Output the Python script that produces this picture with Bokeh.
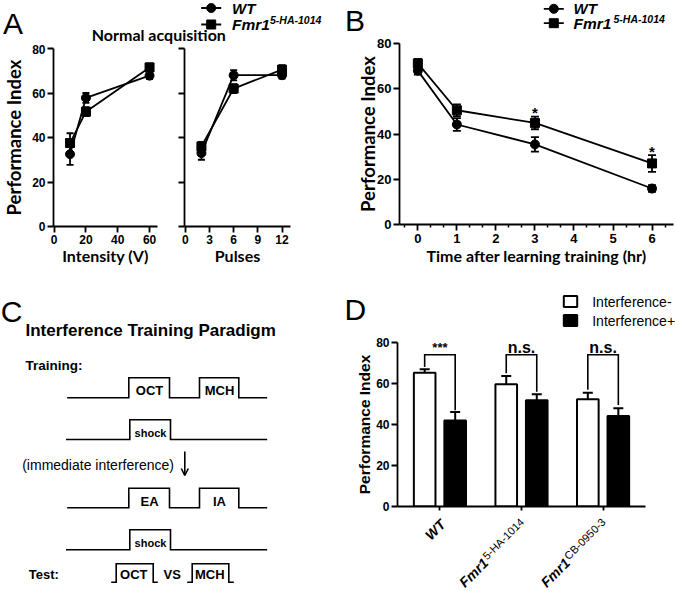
import math
from bokeh.plotting import figure
from bokeh.models import (Range1d, FixedTicker, Label, Whisker, TeeHead,
                          ColumnDataSource, Arrow, OpenHead)
from bokeh.layouts import row, column
from bokeh.embed import file_html
from bokeh.resources import INLINE
from bokeh.core.properties import value

# ---------------- data ----------------
# Panel A (left): shock intensity
intensity_v = [10, 20, 60]
wt_intensity = [32.5, 57.8, 67.8]
wt_intensity_sem = [4.8, 2.2, 1.5]
fmr_intensity = [37.5, 51.6, 71.5]
fmr_intensity_sem = [4.4, 2.0, 1.8]
intensity_ticks = [0, 20, 40, 60]
# Panel A (right): number of pulses
pulses = [2, 6, 12]
wt_pulses = [33.0, 68.0, 68.0]
wt_pulses_sem = [3.0, 2.3, 1.5]
fmr_pulses = [36.0, 62.0, 70.5]
fmr_pulses_sem = [2.0, 2.0, 2.0]
pulse_ticks = [0, 3, 6, 9, 12]
pi_ticks = [0, 20, 40, 60, 80]
# Panel B: memory decay
hours = [0, 1, 3, 6]
wt_time = [68.0, 44.2, 35.4, 15.9]
wt_time_sem = [1.8, 2.8, 3.2, 1.5]
fmr_time = [71.2, 50.5, 44.9, 27.0]
fmr_time_sem = [2.0, 2.6, 2.8, 3.7]
star_hours = [3, 6]
star_pi = [50.8, 33.6]
hour_ticks = [0, 1, 2, 3, 4, 5, 6]
hour_minor_ticks = [-1/3, 1/3, 2/3, 4/3, 5/3, 7/3, 8/3, 10/3, 11/3, 13/3, 14/3,
                    16/3, 17/3, 19/3]
# Panel D: interference
groups = [1, 2, 3]
genotype_base = ["WT", "Fmr1", "Fmr1"]
genotype_sup = ["", "5-HA-1014", "CB-0950-3"]
interference_minus = [65.3, 59.6, 52.3]
interference_minus_sem = [1.7, 4.1, 3.2]
interference_plus = [42.0, 51.8, 44.1]
interference_plus_sem = [4.1, 2.9, 3.8]
sig_text = ["***", "n.s.", "n.s."]
bracket_top = [74, 74, 74]
bracket_left_end = [68.0, 65.0, 57.0]
bracket_right_end = [47.0, 56.0, 49.5]

# Panel C schematic (drawing positions of the paradigm diagram)
odor_wave_x = [66.7, 128.3, 128.3, 169, 169, 199, 199, 238.3, 238.3, 266.7]
odor_wave_level = [0, 0, 1, 1, 0, 0, 1, 1, 0, 0]
shock_wave_x = [65.5, 129.3, 129.3, 170, 170, 266.7]
shock_wave_level = [0, 0, 1, 1, 0, 0]
test_oct_x = [110.7, 115.7, 115.7, 152.7, 152.7, 157.3]
test_mch_x = [186.7, 191.7, 191.7, 228.3, 228.3, 233.3]
test_level = [0, 0, 1, 1, 0, 0]
wave_rows = {"odor1": (397.3, 377.3), "shock1": (439.0, 419.3),
             "odor2": (507.3, 487.7), "shock2": (549.3, 529.3),
             "test": (581.7, 563.3)}

ARIAL = "Liberation Sans"
TITLE = "Lato"
LW = 1.8


def base_fig(w, h, xr, yr, ml, mr, mt, mb):
    p = figure(width=w, height=h, x_range=Range1d(*xr), y_range=Range1d(*yr),
               output_backend="svg", toolbar_location=None, frame_align=False,
               min_border_left=ml, min_border_right=mr,
               min_border_top=mt, min_border_bottom=mb)
    p.outline_line_color = None
    p.xgrid.visible = False
    p.ygrid.visible = False
    p.background_fill_color = "white"
    p.border_fill_color = "white"
    return p


def canvas_fig(w, h, xr, yr):
    p = figure(width=w, height=h, x_range=Range1d(*xr), y_range=Range1d(*yr),
               output_backend="svg", toolbar_location=None, frame_align=False,
               x_axis_type=None, y_axis_type=None, min_border=0)
    p.outline_line_color = None
    p.xgrid.visible = False
    p.ygrid.visible = False
    p.background_fill_color = "white"
    p.border_fill_color = "white"
    return p


def style_axis(ax, size="12px", title_font=TITLE, title_size="16px"):
    ax.axis_line_width = LW
    ax.axis_line_color = "black"
    ax.major_tick_line_width = LW
    ax.major_tick_line_color = "black"
    ax.major_tick_out = 6
    ax.major_tick_in = 0
    ax.minor_tick_line_color = None
    ax.major_label_text_font = ARIAL
    ax.major_label_text_font_style = "bold"
    ax.major_label_text_font_size = size
    ax.major_label_text_color = "black"
    ax.major_label_standoff = 2
    ax.axis_label_text_font = title_font
    ax.axis_label_text_font_style = "bold"
    ax.axis_label_text_font_size = title_size
    ax.axis_label_text_color = "black"


def txt(p, x, y, s, size, style="bold", align="left", baseline="middle", font=ARIAL):
    p.text(x=[x], y=[y], text=[s], text_font=value(font), text_font_size=size,
           text_font_style=style, text_align=align, text_baseline=baseline,
           text_color="black")


def add_series(p, x, y, sem, marker, size, cap):
    lo = [a - b for a, b in zip(y, sem)]
    hi = [a + b for a, b in zip(y, sem)]
    src = ColumnDataSource(dict(x=x, y=y, lo=lo, hi=hi))
    p.line("x", "y", source=src, line_color="black", line_width=LW)
    p.add_layout(Whisker(source=src, base="x", lower="lo", upper="hi",
                         line_color="black", line_width=LW,
                         lower_head=TeeHead(size=cap, line_width=LW, line_color="black"),
                         upper_head=TeeHead(size=cap, line_width=LW, line_color="black")))
    p.scatter("x", "y", source=src, marker=marker, size=size,
              fill_color="black", line_color="black")


def legend_rows(p, x0, x1, xt, y_wt, y_fmr, sup_dx):
    xm = (x0 + x1) / 2
    p.line([x0, x1], [y_wt, y_wt], line_color="black", line_width=LW)
    p.scatter([xm], [y_wt], marker="circle", size=9, fill_color="black", line_color="black")
    p.line([x0, x1], [y_fmr, y_fmr], line_color="black", line_width=LW)
    p.scatter([xm], [y_fmr], marker="square", size=9, fill_color="black", line_color="black")
    txt(p, xt, y_wt, "WT", "15px", style="bold italic")
    txt(p, xt, y_fmr, "Fmr1", "15.5px", style="bold italic")
    txt(p, xt + sup_dx, y_fmr - 4.5, "5-HA-1014", "10.5px", style="bold italic")


# ---------------- Panel A ----------------
hA = canvas_fig(335, 44, (0, 335), (44, 0))
txt(hA, 2.5, 23, "A", "30px", style="normal")
txt(hA, 158.3, 34, "Normal acquisition", "16px", align="center", font=TITLE)
legend_rows(hA, 200.7, 220.7, 231.5, 7.5, 24, 38)

a1 = base_fig(170, 241, (-0.4, 65), (0, 80), 50, 13, 4, 59)
a1.xaxis.ticker = FixedTicker(ticks=intensity_ticks)
a1.yaxis.ticker = FixedTicker(ticks=pi_ticks)
style_axis(a1.xaxis[0])
style_axis(a1.yaxis[0], title_size="18.5px")
a1.xaxis.axis_label = "Intensity (V)"
a1.xaxis.axis_label_standoff = -1
a1.yaxis.axis_label = "Performance Index"
a1.yaxis.axis_label_standoff = 4
add_series(a1, intensity_v, wt_intensity, wt_intensity_sem, "circle", 9, 7)
add_series(a1, intensity_v, fmr_intensity, fmr_intensity_sem, "square", 9, 7)

a2 = base_fig(165, 241, (-0.1, 13.05), (0, 80), 14, 45, 4, 59)
a2.xaxis.ticker = FixedTicker(ticks=pulse_ticks)
a2.yaxis.ticker = FixedTicker(ticks=pi_ticks)
style_axis(a2.xaxis[0])
style_axis(a2.yaxis[0])
a2.yaxis.major_label_overrides = {t: "" for t in pi_ticks}
a2.xaxis.axis_label = "Pulses"
a2.xaxis.axis_label_standoff = -1
add_series(a2, pulses, wt_pulses, wt_pulses_sem, "circle", 9, 7)
add_series(a2, pulses, fmr_pulses, fmr_pulses_sem, "square", 9, 7)

# ---------------- Panel B ----------------
hB = canvas_fig(340, 37, (335, 675), (37, 0))
txt(hB, 344.5, 20, "B", "30px", style="normal")
legend_rows(hB, 543.3, 563.3, 573, 8.3, 22.7, 40)

b = base_fig(340, 248, (-0.47, 6.55), (0, 80), 64, 2, 6, 61)
b.xaxis.ticker = FixedTicker(ticks=hour_ticks, minor_ticks=hour_minor_ticks)
b.yaxis.ticker = FixedTicker(ticks=pi_ticks)
style_axis(b.xaxis[0], size="13px")
style_axis(b.yaxis[0], size="13px", title_size="18.5px")
b.xaxis.minor_tick_line_color = "black"
b.xaxis.minor_tick_line_width = 1.5
b.xaxis.minor_tick_out = 3
b.xaxis.minor_tick_in = 0
b.xaxis.major_label_standoff = 3
b.xaxis.axis_label = "Time after learning training (hr)"
b.xaxis.axis_label_standoff = 0
b.yaxis.axis_label = "Performance Index"
b.yaxis.axis_label_standoff = -5
add_series(b, hours, wt_time, wt_time_sem, "circle", 9, 8)
add_series(b, hours, fmr_time, fmr_time_sem, "square", 9, 8)
b.text(x=star_hours, y=[v - 1.5 for v in star_pi], text=["*"] * len(star_hours),
       text_font=value(ARIAL), text_font_size="15px", text_font_style="bold",
       text_align="center", text_baseline="middle", text_color="black")

# ---------------- Panel C ----------------
c = canvas_fig(335, 306, (0, 335), (591, 285))


def wave(p, xs, levels, rowkey):
    low, high = wave_rows[rowkey]
    ys = [high if lv else low for lv in levels]
    p.line(xs, ys, line_color="black", line_width=1.6, line_join="miter")


wave(c, odor_wave_x, odor_wave_level, "odor1")
wave(c, shock_wave_x, shock_wave_level, "shock1")
wave(c, odor_wave_x, odor_wave_level, "odor2")
wave(c, shock_wave_x, shock_wave_level, "shock2")
wave(c, test_oct_x, test_level, "test")
wave(c, test_mch_x, test_level, "test")
txt(c, 0.2, 311, "C", "30px", style="normal")
txt(c, 25, 330, "Interference Training Paradigm", "17px")
txt(c, 25, 365, "Training:", "13.5px")
txt(c, 149, 390, "OCT", "13px", align="center")
txt(c, 219, 390, "MCH", "13px", align="center")
txt(c, 150, 432, "shock", "11px", align="center")
txt(c, 21.7, 464.3, "(immediate interference)", "14px", style="normal")
txt(c, 149, 500.7, "EA", "13px", align="center")
txt(c, 219, 500.7, "IA", "13px", align="center")
txt(c, 150, 542, "shock", "11px", align="center")
txt(c, 28.3, 574.3, "Test:", "13px")
txt(c, 133.3, 574.3, "OCT", "13px", align="center")
txt(c, 171.7, 574.3, "VS", "13px", align="center")
txt(c, 209.3, 574.3, "MCH", "13px", align="center")
c.add_layout(Arrow(end=OpenHead(size=7, line_width=1.6, line_color="black"),
                   x_start=184.3, y_start=451, x_end=184.3, y_end=475,
                   line_width=1.6, line_color="black"))

# ---------------- Panel D ----------------
hD = canvas_fig(340, 48, (335, 675), (333, 285))
txt(hD, 344, 309, "D", "30px", style="normal")
hD.quad(left=[563.3], right=[576.7], top=[295.5], bottom=[306.5],
        fill_color="white", line_color="black", line_width=2)
hD.quad(left=[563.3], right=[576.7], top=[314.5], bottom=[325.5],
        fill_color="black", line_color="black", line_width=2)
txt(hD, 591.7, 301, "Interference-", "14px", style="normal")
txt(hD, 591.7, 320, "Interference+", "14px", style="normal")

D_XR = (0.48, 3.52)
D_ML, D_MR = 62, 30
D_FRAME_W = 340 - D_ML - D_MR
d = base_fig(340, 181, D_XR, (0, 80), D_ML, D_MR, 9, 8)
d.xaxis.ticker = FixedTicker(ticks=groups)
d.yaxis.ticker = FixedTicker(ticks=pi_ticks)
style_axis(d.xaxis[0])
style_axis(d.yaxis[0], title_font=ARIAL, title_size="15.5px")
d.xaxis.major_tick_out = 4
d.xaxis.major_label_overrides = {g: "" for g in groups}
d.xaxis.major_label_text_font_size = "0px"
d.xaxis.major_label_standoff = 0
d.yaxis.axis_label = "Performance Index"
d.yaxis.axis_label_standoff = 0

off = 0.187
bw = 0.265
x_minus = [g - off for g in groups]
x_plus = [g + off for g in groups]
src_m = ColumnDataSource(dict(x=x_minus, top=interference_minus,
                              hi=[a + e for a, e in zip(interference_minus, interference_minus_sem)]))
src_p = ColumnDataSource(dict(x=x_plus, top=interference_plus,
                              hi=[a + e for a, e in zip(interference_plus, interference_plus_sem)]))
for src, fill in ((src_m, "white"), (src_p, "black")):
    d.add_layout(Whisker(source=src, base="x", lower="top", upper="hi",
                         line_color="black", line_width=2, lower_head=None,
                         upper_head=TeeHead(size=10, line_width=2, line_color="black"),
                         level="underlay"))
    d.vbar(x="x", top="top", bottom=0, width=bw, source=src,
           fill_color=fill, line_color="black", line_width=2)

bx, by = [], []
for g, t, le, re in zip(groups, bracket_top, bracket_left_end, bracket_right_end):
    bx.append([g - off, g - off, g + off, g + off])
    by.append([le, t, t, re])
d.multi_line(bx, by, line_color="black", line_width=1.6, line_join="miter")
for g, s in zip(groups, sig_text):
    d.add_layout(Label(x=g, y=77.4, text=s, text_align="center", text_baseline="middle",
                       text_font=ARIAL, text_font_style="bold",
                       text_font_size="13px" if s == "***" else "16px", text_color="black"))

# footer with rotated genotype labels, sharing D's horizontal data scale
FOOT_TOP, FOOT_H = 514, 77
px_per_unit = D_FRAME_W / (D_XR[1] - D_XR[0])
fD = canvas_fig(340, FOOT_H, (D_XR[0] - D_ML / px_per_unit, D_XR[1] + D_MR / px_per_unit),
                (0, FOOT_H))


def foot_label(g, dx_px, y_px, text, size, style):
    fD.add_layout(Label(x=g + dx_px / px_per_unit, y=FOOT_TOP + FOOT_H - y_px, text=text,
                        angle=math.pi / 4, text_align="right", text_baseline="middle",
                        text_font=ARIAL, text_font_style=style, text_font_size=size,
                        text_color="black"))


r2 = math.sqrt(0.5)
for g, base, sup in zip(groups, genotype_base, genotype_sup):
    if not sup:
        foot_label(g, 3.0, 521.5, base, "14px", "bold italic")
    else:
        ex, ey = 0.5, 519.5
        w_sup = 53.2
        sx, sy = ex - w_sup * r2, ey + w_sup * r2
        mx, my = sx - r2 + 3 * r2, sy + r2 + 3 * r2
        foot_label(g, ex, ey, sup, "11px", "normal")
        foot_label(g, mx, my, base, "14px", "bold italic")

layout = column(
    row(column(hA, row(a1, a2)), column(hB, b)),
    row(c, column(hD, d, fD)),
)

open("out.html", "w").write(file_html(layout, INLINE))
